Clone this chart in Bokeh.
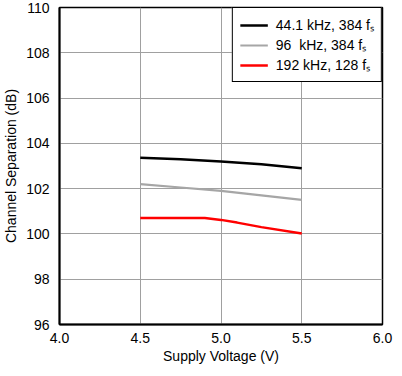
from bokeh.plotting import figure
from bokeh.models import Legend, LegendItem, Range1d, FixedTicker, CustomJSTickFormatter
from bokeh.embed import file_html
from bokeh.resources import INLINE

voltage = [4.5, 4.75, 5.0, 5.25, 5.5]
sep_441 = [103.36, 103.3, 103.2, 103.08, 102.9]
sep_96 = [102.2, 102.05, 101.9, 101.7, 101.5]
voltage_192 = [4.5, 4.75, 4.9, 5.0, 5.1, 5.25, 5.5]
sep_192 = [100.7, 100.7, 100.7, 100.62, 100.5, 100.3, 100.02]

x_ticks = [4.0, 4.5, 5.0, 5.5, 6.0]
y_ticks = [96, 98, 100, 102, 104, 106, 108, 110]
labels = ["44.1 kHz, 384 f\u209b", "96  kHz, 384 f\u209b", "192 kHz, 128 f\u209b"]

FONT = "Liberation Sans"

p = figure(width=394, height=366, output_backend="svg", toolbar_location=None,
           x_range=Range1d(4.0, 6.0), y_range=Range1d(96, 110),
           min_border_left=56, min_border_right=12, min_border_top=7, min_border_bottom=40)

r1 = p.line(voltage, sep_441, line_color="black", line_width=2.5)
r2 = p.line(voltage, sep_96, line_color="#a6a6a6", line_width=2.2)
r3 = p.line(voltage_192, sep_192, line_color="#ff0000", line_width=2.5)

p.outline_line_color = "black"
p.outline_line_width = 1.5
p.xaxis.ticker = FixedTicker(ticks=x_ticks)
p.yaxis.ticker = FixedTicker(ticks=y_ticks)
p.xaxis.formatter = CustomJSTickFormatter(code="return tick.toFixed(1);")
for ax in (p.xaxis, p.yaxis):
    ax.major_tick_line_color = None
    ax.minor_tick_line_color = None
    ax.axis_line_color = "black"
    ax.axis_line_width = 2
    ax.major_label_text_font = FONT
    ax.major_label_text_font_size = "14px"
    ax.major_label_text_color = "black"
    ax.axis_label_text_font = FONT
    ax.axis_label_text_font_size = "14px"
    ax.axis_label_text_font_style = "normal"
    ax.axis_label_text_color = "black"
    ax.major_label_standoff = 4
    ax.axis_label_standoff = 4
p.xaxis.major_label_standoff = 2
p.xaxis.axis_label_standoff = 2
p.xaxis.axis_label = "Supply Voltage (V)"
p.yaxis.axis_label = "Channel Separation (dB)"

p.xgrid.ticker = FixedTicker(ticks=x_ticks)
p.ygrid.ticker = FixedTicker(ticks=y_ticks)
p.grid.grid_line_color = "#a0a0a0"
p.grid.grid_line_width = 1

legend = Legend(items=[LegendItem(label=labels[0], renderers=[r1]),
                       LegendItem(label=labels[1], renderers=[r2]),
                       LegendItem(label=labels[2], renderers=[r3])],
                location="top_right")
legend.label_text_font = FONT
legend.label_text_font_size = "14px"
legend.label_text_color = "black"
legend.border_line_color = "black"
legend.border_line_width = 1.5
legend.border_line_alpha = 1
legend.background_fill_alpha = 1
legend.glyph_width = 28
legend.glyph_height = 18
legend.label_height = 18
legend.spacing = 1
legend.padding = 7
legend.margin = 0
legend.label_standoff = 8
p.add_layout(legend)

open("out.html", "w").write(file_html(p, INLINE))
